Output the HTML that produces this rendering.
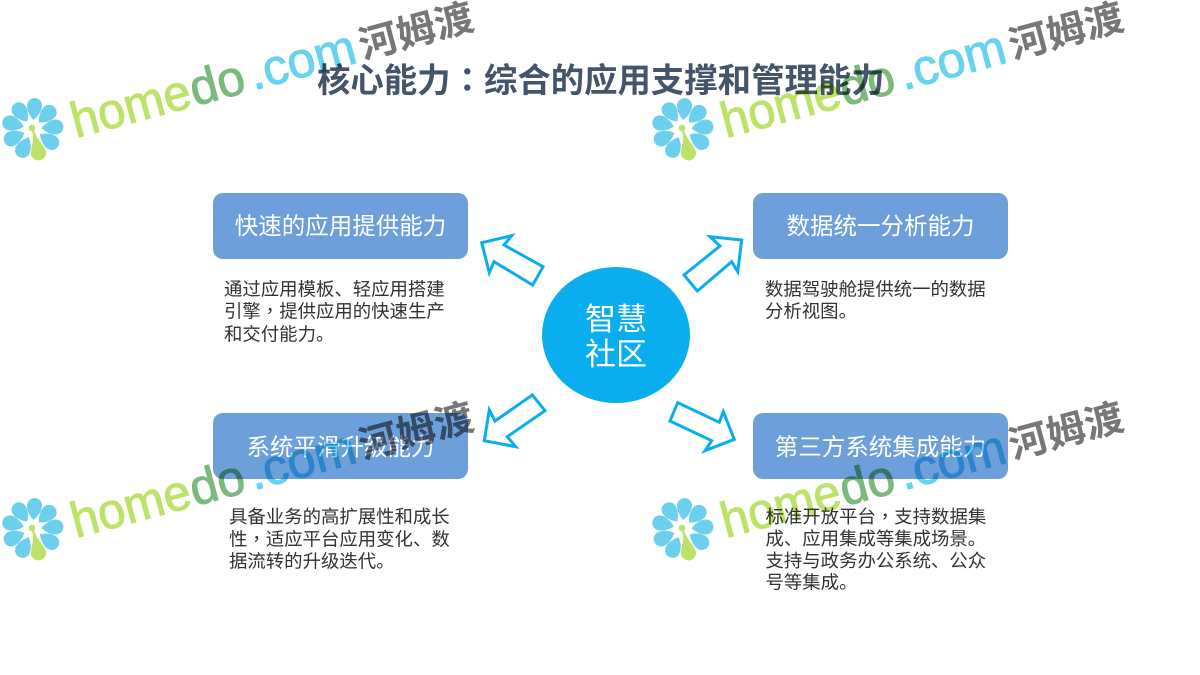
<!DOCTYPE html>
<html><head><meta charset="utf-8"><style>
html,body{margin:0;padding:0;background:#fff;width:1200px;height:675px;overflow:hidden}
svg{display:block}
text{font-family:"Liberation Sans","Noto Sans CJK SC",sans-serif}
.p{font-family:"Noto Sans CJK TC",sans-serif}
.d{font-size:18.4px;fill:#333}
.b{font-size:23.5px;fill:#fff;text-anchor:middle}
.c{font-size:31px;fill:#fff;text-anchor:middle}
.wm{mix-blend-mode:multiply}
.h{font-size:50px;fill:#BDE268;stroke:#BDE268;stroke-width:1px}
.o{font-size:50px;fill:#7CB97C;stroke:#7CB97C;stroke-width:1px}
.m{font-size:50px;fill:#68D3EE;stroke:#68D3EE;stroke-width:1px}
.z{font-size:38px;font-weight:700;fill:#777}
</style></head><body>
<svg width="1200" height="675" viewBox="0 0 1200 675" xmlns="http://www.w3.org/2000/svg">
<defs>
<g id="logo">
<g fill="#6CCFEE">
<path transform="translate(32.500,129) rotate(5)" d="M0-9C-3-12-7.500-17-7.500-23.500A7.500 7.500 0 0 1 7.500-23.500C7.500-17 3-12 0-9Z"/>
<path transform="translate(32.500,129) rotate(45)" d="M0-9C-3-12-7.500-17-7.500-23.500A7.500 7.500 0 0 1 7.500-23.500C7.500-17 3-12 0-9Z"/>
<path transform="translate(32.500,129) rotate(85)" d="M0-9C-3-12-7.500-17-7.500-23.500A7.500 7.500 0 0 1 7.500-23.500C7.500-17 3-12 0-9Z"/>
<path transform="translate(32.500,129) rotate(125)" d="M0-9C-3-12-7.500-17-7.500-23.500A7.500 7.500 0 0 1 7.500-23.500C7.500-17 3-12 0-9Z"/>
<path transform="translate(32.500,129) rotate(205)" d="M0-9C-3-12-7.500-17-7.500-23.500A7.500 7.500 0 0 1 7.500-23.500C7.500-17 3-12 0-9Z"/>
<path transform="translate(32.500,129) rotate(245)" d="M0-9C-3-12-7.500-17-7.500-23.500A7.500 7.500 0 0 1 7.500-23.500C7.500-17 3-12 0-9Z"/>
<path transform="translate(32.500,129) rotate(285)" d="M0-9C-3-12-7.500-17-7.500-23.500A7.500 7.500 0 0 1 7.500-23.500C7.500-17 3-12 0-9Z"/>
<path transform="translate(32.500,129) rotate(325)" d="M0-9C-3-12-7.500-17-7.500-23.500A7.500 7.500 0 0 1 7.500-23.500C7.500-17 3-12 0-9Z"/>
</g>
<circle cx="32" cy="128" r="3.300" fill="#BDE268"/>
<path d="M32 131C35 140 31 146 31 153A7.500 7.500 0 0 0 46 153C46 146 37 141 34.500 131Z" fill="#BDE268"/>
</g>
</defs>
<rect width="1200" height="675" fill="#fff"/>

<text x="317" y="92" font-size="33.4" font-weight="700" fill="#44546A">核心能力<tspan class="p">：</tspan>综合的应用支撑和管理能力</text>

<g fill="#6DA0DA">
<rect x="213" y="193" width="255" height="66" rx="10"/>
<rect x="753" y="193" width="255" height="66" rx="10"/>
<rect x="213" y="413" width="255" height="66" rx="10"/>
<rect x="753" y="413" width="255" height="66" rx="10"/>
</g>
<text class="b" x="340.500" y="234">快速的应用提供能力</text>
<text class="b" x="880.500" y="234">数据统一分析能力</text>
<text class="b" x="340.500" y="455">系统平滑升级能力</text>
<text class="b" x="880.500" y="455">第三方系统集成能力</text>

<text class="d" x="224" y="295.500">通过应用模板、轻应用搭建</text>
<text class="d" x="224" y="317.500">引擎<tspan class="p">，</tspan>提供应用的快速生产</text>
<text class="d" x="224" y="340.500">和交付能力。</text>
<text class="d" x="765" y="295.500">数据驾驶舱提供统一的数据</text>
<text class="d" x="765" y="317.500">分析视图。</text>
<text class="d" x="229" y="523">具备业务的高扩展性和成长</text>
<text class="d" x="229" y="545.500">性<tspan class="p">，</tspan>适应平台应用变化、数</text>
<text class="d" x="229" y="567.500">据流转的升级迭代。</text>
<text class="d" x="765.500" y="523">标准开放平台<tspan class="p">，</tspan>支持数据集</text>
<text class="d" x="765.500" y="545">成、应用集成等集成场景。</text>
<text class="d" x="765.500" y="567">支持与政务办公系统、公众</text>
<text class="d" x="765.500" y="588.500">号等集成。</text>

<ellipse cx="616" cy="335" rx="74" ry="68" fill="#0AAEEF"/>
<text class="c" x="616" y="330">智慧</text>
<text class="c" x="616" y="365">社区</text>

<g fill="#fff" stroke="#0AAEEF" stroke-width="3">
<polygon points="481.700,242.700 511.700,235.700 504,245 543,266.700 532.700,285 494,261.700 489.300,272.700"/>
<polygon points="741.700,240 710,236.700 720,246 684,275 697.300,291 731.700,261.700 737.700,271.700"/>
<polygon points="484.300,440.700 515.700,446.700 507.300,436.700 545,410.700 532.300,395 495,421 489.300,410"/>
<polygon points="734.300,439.300 705,450.700 711.700,440.700 670,421 677.700,402.700 719.300,422.300 723.300,411.700"/>
</g>

<g class="wm" transform="translate(0,0)">
<use href="#logo"/>
<g transform="translate(76,138) rotate(-15)">
<text class="h" x="0" y="0" textLength="122" lengthAdjust="spacingAndGlyphs">home</text>
<text class="o" x="123" y="0" textLength="55" lengthAdjust="spacingAndGlyphs">do</text>
<text class="m" x="184" y="0" textLength="109" lengthAdjust="spacingAndGlyphs">.com</text>
</g>
<text class="z" transform="translate(363,59) rotate(-15)" textLength="117" lengthAdjust="spacingAndGlyphs">河姆渡</text>
</g>

<g class="wm" transform="translate(650,0)">
<use href="#logo"/>
<g transform="translate(76,138) rotate(-15)">
<text class="h" x="0" y="0" textLength="122" lengthAdjust="spacingAndGlyphs">home</text>
<text class="o" x="123" y="0" textLength="55" lengthAdjust="spacingAndGlyphs">do</text>
<text class="m" x="184" y="0" textLength="109" lengthAdjust="spacingAndGlyphs">.com</text>
</g>
<text class="z" transform="translate(363,59) rotate(-15)" textLength="117" lengthAdjust="spacingAndGlyphs">河姆渡</text>
</g>

<g class="wm" transform="translate(0,400)">
<use href="#logo"/>
<g transform="translate(76,138) rotate(-15)">
<text class="h" x="0" y="0" textLength="122" lengthAdjust="spacingAndGlyphs">home</text>
<text class="o" x="123" y="0" textLength="55" lengthAdjust="spacingAndGlyphs">do</text>
<text class="m" x="184" y="0" textLength="109" lengthAdjust="spacingAndGlyphs">.com</text>
</g>
<text class="z" transform="translate(363,59) rotate(-15)" textLength="117" lengthAdjust="spacingAndGlyphs">河姆渡</text>
</g>

<g class="wm" transform="translate(650,400)">
<use href="#logo"/>
<g transform="translate(76,138) rotate(-15)">
<text class="h" x="0" y="0" textLength="122" lengthAdjust="spacingAndGlyphs">home</text>
<text class="o" x="123" y="0" textLength="55" lengthAdjust="spacingAndGlyphs">do</text>
<text class="m" x="184" y="0" textLength="109" lengthAdjust="spacingAndGlyphs">.com</text>
</g>
<text class="z" transform="translate(363,59) rotate(-15)" textLength="117" lengthAdjust="spacingAndGlyphs">河姆渡</text>
</g>
</svg>
</body></html>
